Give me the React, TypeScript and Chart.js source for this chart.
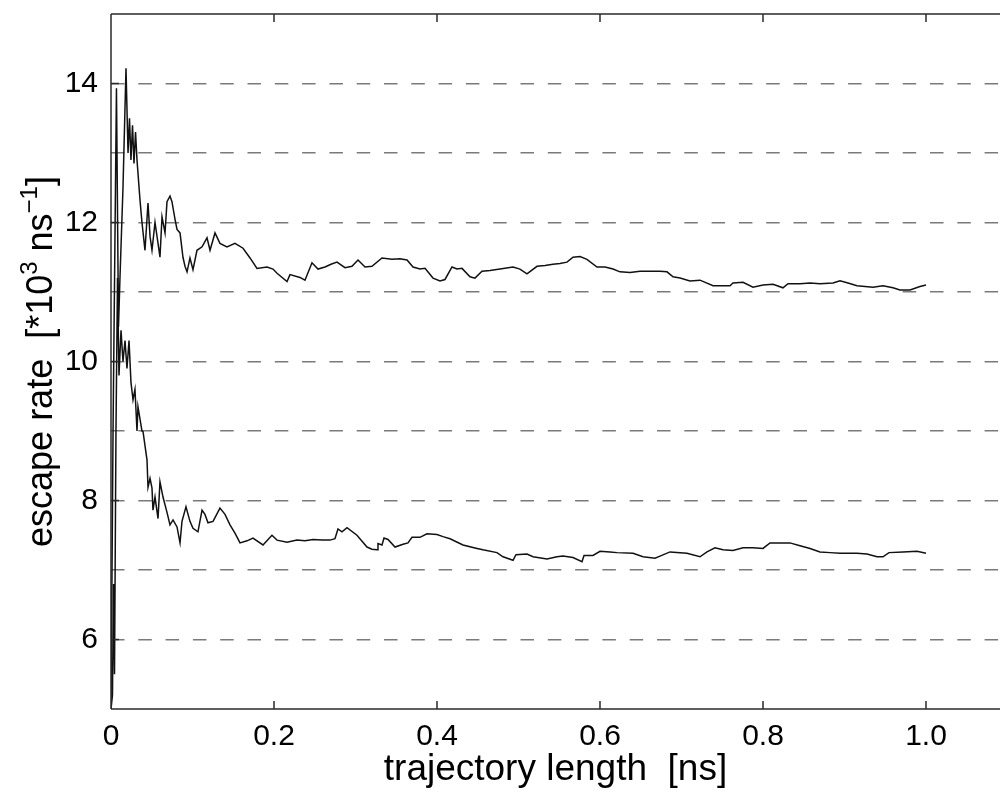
import React, { useEffect, useRef } from 'react';
import { Chart, registerables } from 'chart.js';

Chart.register(...registerables);

const FONT = "'Liberation Sans', Arial, Helvetica, sans-serif";

const xTicks = [0, 0.2, 0.4, 0.6, 0.8, 1.0];
const xTickLabels = ['0', '0.2', '0.4', '0.6', '0.8', '1.0'];
const yGridValues = [6, 7, 8, 9, 10, 11, 12, 13, 14];
const yTickLabels = ['6', '', '8', '', '10', '', '12', '', '14'];
const xMin = 0;
const xMax = 1.0908;
const yMin = 5;
const yMax = 15;

const xTitle = 'trajectory length  [ns]';
const yTitleParts = [
  { text: 'escape rate  [*10', sup: false },
  { text: '3', sup: true },
  { text: ' ns', sup: false },
  { text: '\u22121', sup: true },
  { text: ']', sup: false },
];

const upperX = [
  0, 0.0025, 0.0067, 0.0092, 0.011, 0.0147, 0.0184, 0.0209, 0.0227, 0.0245,
  0.0264, 0.0282, 0.0301, 0.0319, 0.0356, 0.038, 0.0417, 0.0454, 0.0479, 0.0503,
  0.054, 0.0577, 0.0601, 0.0626, 0.0663, 0.0687, 0.0724, 0.0748, 0.0785, 0.081,
  0.0847, 0.0883, 0.0908, 0.0933, 0.0969, 0.1006, 0.1055, 0.1117, 0.1178, 0.1215,
  0.1276, 0.1337, 0.1423, 0.1521, 0.162, 0.1706, 0.1791, 0.1914, 0.1988, 0.2037,
  0.216, 0.2196, 0.2319, 0.238, 0.2466, 0.254, 0.2626, 0.2699, 0.2773, 0.2871,
  0.2957, 0.3031, 0.3117, 0.3202, 0.3325, 0.3448, 0.3546, 0.3632, 0.3706, 0.3791,
  0.3853, 0.3951, 0.4037, 0.4098, 0.4184, 0.4245, 0.4307, 0.4405, 0.4466, 0.4552,
  0.465, 0.4773, 0.4933, 0.5018, 0.5104, 0.5227, 0.5325, 0.5423, 0.5509, 0.5595,
  0.5669, 0.5755, 0.584, 0.5963, 0.6061, 0.616, 0.6245, 0.6368, 0.6491, 0.6613,
  0.6736, 0.6822, 0.6896, 0.6982, 0.7104, 0.7227, 0.7387, 0.7497, 0.7595, 0.7632,
  0.7755, 0.7877, 0.8, 0.8123, 0.8245, 0.8307, 0.8454, 0.8577, 0.8699, 0.8859,
  0.8945, 0.9043, 0.9153, 0.9252, 0.935, 0.9472, 0.9595, 0.9681, 0.9804, 0.9926,
  1.0,
];
const upperY = [
  5.0, 9.0, 13.93, 10.5, 11.2, 12.5, 14.22, 13.0, 13.5, 12.9,
  13.4, 12.85, 13.3, 12.9, 12.32, 12.0, 11.6, 12.28, 11.8, 11.6,
  12.0, 11.7, 11.5, 12.08, 11.85, 12.3, 12.38, 12.3, 12.05, 11.9,
  11.85, 11.5, 11.37, 11.29, 11.49, 11.32, 11.6, 11.65, 11.78, 11.6,
  11.85, 11.7, 11.65, 11.7, 11.63, 11.49, 11.34, 11.36, 11.33, 11.27,
  11.15, 11.25, 11.21, 11.17, 11.42, 11.33, 11.36, 11.4, 11.43, 11.35,
  11.37, 11.46, 11.36, 11.37, 11.49, 11.47, 11.48, 11.46, 11.36, 11.33,
  11.34, 11.2, 11.16, 11.18, 11.36, 11.33, 11.34, 11.22, 11.2, 11.3,
  11.31, 11.33, 11.36, 11.33, 11.26, 11.37, 11.38, 11.4, 11.41, 11.43,
  11.5, 11.51, 11.47, 11.36, 11.36, 11.33, 11.29, 11.28, 11.3, 11.3,
  11.3, 11.29, 11.22, 11.2, 11.16, 11.17, 11.09, 11.09, 11.09, 11.13,
  11.14, 11.07, 11.1, 11.11, 11.06, 11.12, 11.12, 11.13, 11.12, 11.13,
  11.16, 11.13, 11.09, 11.08, 11.07, 11.09, 11.06, 11.03, 11.03, 11.08,
  11.1,
];

const lowerX = [
  0, 0.0018, 0.0031, 0.0043, 0.0061, 0.008, 0.0098, 0.0123, 0.0147, 0.0172,
  0.0196, 0.0221, 0.0245, 0.027, 0.0294, 0.0319, 0.0331, 0.038, 0.0393, 0.0442,
  0.0454, 0.0479, 0.0503, 0.0515, 0.054, 0.0577, 0.0601, 0.0638, 0.0687, 0.0724,
  0.0761, 0.081, 0.0847, 0.0871, 0.092, 0.0969, 0.1006, 0.1067, 0.1117, 0.1153,
  0.119, 0.1252, 0.1337, 0.1399, 0.146, 0.1521, 0.1583, 0.1669, 0.1742, 0.1865,
  0.1975, 0.2037, 0.216, 0.2282, 0.238, 0.2479, 0.2589, 0.2687, 0.2748, 0.2785,
  0.2834, 0.2896, 0.3018, 0.3141, 0.3202, 0.3264, 0.3276, 0.3325, 0.335, 0.3399,
  0.3485, 0.3583, 0.3644, 0.3693, 0.3791, 0.3877, 0.4, 0.4074, 0.416, 0.4319,
  0.4491, 0.4564, 0.4736, 0.481, 0.4933, 0.4969, 0.5104, 0.5178, 0.535, 0.5472,
  0.5546, 0.5669, 0.5779, 0.5804, 0.5914, 0.6, 0.6123, 0.6209, 0.6405, 0.6528,
  0.6675, 0.6736, 0.6859, 0.7067, 0.7227, 0.7313, 0.7411, 0.7509, 0.7632, 0.7755,
  0.7877, 0.8, 0.8086, 0.8209, 0.8331, 0.8454, 0.8577, 0.8699, 0.8822, 0.8945,
  0.9153, 0.9276, 0.9399, 0.9472, 0.9546, 0.9718, 0.989, 1.0,
];
const lowerY = [
  5.0, 5.2, 6.8, 5.5, 9.0, 11.2, 9.8, 10.45, 10.0, 10.3,
  9.9, 10.3, 9.7, 9.45, 9.6, 9.0, 9.35, 9.0, 8.99, 8.58,
  8.19, 8.32, 8.18, 7.86, 8.05, 7.74, 8.27, 8.05, 7.83, 7.65,
  7.72, 7.62, 7.39, 7.7, 7.91, 7.7, 7.6, 7.55, 7.86, 7.8,
  7.68, 7.7, 7.89, 7.8, 7.65, 7.53, 7.39, 7.42, 7.46, 7.36,
  7.5, 7.43, 7.4, 7.43, 7.42, 7.44, 7.43, 7.43, 7.45, 7.59,
  7.55, 7.61, 7.5, 7.33, 7.3, 7.29, 7.38, 7.36, 7.46, 7.44,
  7.33, 7.37, 7.39, 7.47, 7.47, 7.52, 7.51, 7.48, 7.45, 7.36,
  7.31, 7.29, 7.25, 7.19, 7.14, 7.22, 7.23, 7.19, 7.16, 7.19,
  7.2, 7.18, 7.12, 7.21, 7.21, 7.27, 7.26, 7.25, 7.24, 7.19,
  7.17, 7.2, 7.26, 7.24, 7.19, 7.26, 7.32, 7.29, 7.28, 7.32,
  7.32, 7.31, 7.39, 7.39, 7.39, 7.35, 7.31, 7.26, 7.25, 7.24,
  7.24, 7.23, 7.19, 7.19, 7.25, 7.26, 7.27, 7.24,
];

const toPoints = (xs: number[], ys: number[]) => xs.map((x, i) => ({ x, y: ys[i] }));

const AXIS_COLOR = '#2a2a2a';
const TICK_LEN = 8;

const framePlugin = {
  id: 'frame',
  afterDatasetsDraw(chart: any) {
    const { ctx, chartArea } = chart;
    const xs = chart.scales.x;
    const ys = chart.scales.y;
    const { left, right, top, bottom } = chartArea;
    ctx.save();
    ctx.strokeStyle = AXIS_COLOR;
    ctx.lineWidth = 1.5;
    ctx.setLineDash([]);
    ctx.beginPath();
    ctx.moveTo(left, top);
    ctx.lineTo(left, bottom);
    ctx.moveTo(left, bottom);
    ctx.lineTo(right, bottom);
    ctx.moveTo(left, top);
    ctx.lineTo(right, top);
    xTicks.forEach((v) => {
      const px = xs.getPixelForValue(v);
      ctx.moveTo(px, bottom);
      ctx.lineTo(px, bottom - TICK_LEN);
      ctx.moveTo(px, top);
      ctx.lineTo(px, top + TICK_LEN);
    });
    yGridValues.forEach((v, i) => {
      if (!yTickLabels[i]) return;
      const py = ys.getPixelForValue(v);
      ctx.moveTo(left, py);
      ctx.lineTo(left + TICK_LEN, py);
    });
    ctx.stroke();
    ctx.restore();
  },
  afterDraw(chart: any) {
    const { ctx, chartArea } = chart;
    const mainFont = `36px ${FONT}`;
    const supFont = `24px ${FONT}`;
    ctx.save();
    let total = 0;
    const widths = yTitleParts.map((p) => {
      ctx.font = p.sup ? supFont : mainFont;
      const w = ctx.measureText(p.text).width;
      total += w;
      return w;
    });
    const cy = (chartArea.top + chartArea.bottom) / 2;
    ctx.translate(52, cy);
    ctx.rotate(-Math.PI / 2);
    ctx.fillStyle = '#000';
    ctx.textBaseline = 'alphabetic';
    ctx.textAlign = 'left';
    let x = -total / 2;
    yTitleParts.forEach((p, i) => {
      ctx.font = p.sup ? supFont : mainFont;
      ctx.fillText(p.text, x, p.sup ? -15 : 0);
      x += widths[i];
    });
    ctx.restore();
  },
};

export default function App() {
  const ref = useRef<HTMLCanvasElement | null>(null);
  useEffect(() => {
    if (!ref.current) return;
    Chart.defaults.font.family = FONT;
    const chart = new Chart(ref.current, {
      type: 'line',
      data: {
        datasets: [
          {
            label: 'upper',
            data: toPoints(upperX, upperY),
            borderColor: '#111',
            borderWidth: 1.5,
            pointRadius: 0,
            tension: 0,
            fill: false,
          },
          {
            label: 'lower',
            data: toPoints(lowerX, lowerY),
            borderColor: '#111',
            borderWidth: 1.5,
            pointRadius: 0,
            tension: 0,
            fill: false,
          },
        ],
      },
      options: {
        animation: false,
        responsive: false,
        maintainAspectRatio: false,
        events: [],
        layout: { padding: { top: 14, right: 0, left: 0, bottom: 0 } },
        plugins: {
          legend: { display: false },
          tooltip: { enabled: false },
          title: { display: false },
        },
        scales: {
          x: {
            type: 'linear',
            min: xMin,
            max: xMax,
            afterFit: (s: any) => {
              s.height = 84;
              s.paddingLeft = 0;
              s.paddingRight = 0;
            },
            afterBuildTicks: (s: any) => {
              s.ticks = xTicks.map((v) => ({ value: v }));
            },
            grid: { display: false, drawTicks: false },
            border: { display: false },
            ticks: {
              autoSkip: false,
              maxRotation: 0,
              padding: 10,
              color: '#000',
              font: { size: 30, family: FONT },
              callback: (v: any) => {
                const i = xTicks.findIndex((t) => Math.abs(t - Number(v)) < 1e-9);
                return i >= 0 ? xTickLabels[i] : '';
              },
            },
            title: {
              display: true,
              text: xTitle,
              color: '#000',
              font: { size: 37, family: FONT },
              padding: { top: 0, bottom: 1 },
            },
          },
          y: {
            type: 'linear',
            min: yMin,
            max: yMax,
            afterFit: (s: any) => {
              s.width = 111;
              s.paddingTop = 0;
              s.paddingBottom = 0;
            },
            afterBuildTicks: (s: any) => {
              s.ticks = yGridValues.map((v) => ({ value: v }));
            },
            grid: {
              color: '#7a7a7a',
              lineWidth: 1.4,
              drawTicks: false,
            },
            border: { display: false, dash: [13.5, 13.8] },
            ticks: {
              autoSkip: false,
              padding: 13,
              color: '#000',
              font: { size: 30, family: FONT },
              callback: (v: any) => {
                const i = yGridValues.findIndex((t) => Math.abs(t - Number(v)) < 1e-9);
                return i >= 0 ? yTickLabels[i] : '';
              },
            },
          },
        },
      },
      plugins: [framePlugin],
    });
    return () => chart.destroy();
  }, []);
  return (
    <div style={{ position: 'absolute', left: 0, top: 0, width: 1000, height: 793, background: '#fff' }}>
      <canvas ref={ref} width={1000} height={793} style={{ display: 'block' }} />
    </div>
  );
}
